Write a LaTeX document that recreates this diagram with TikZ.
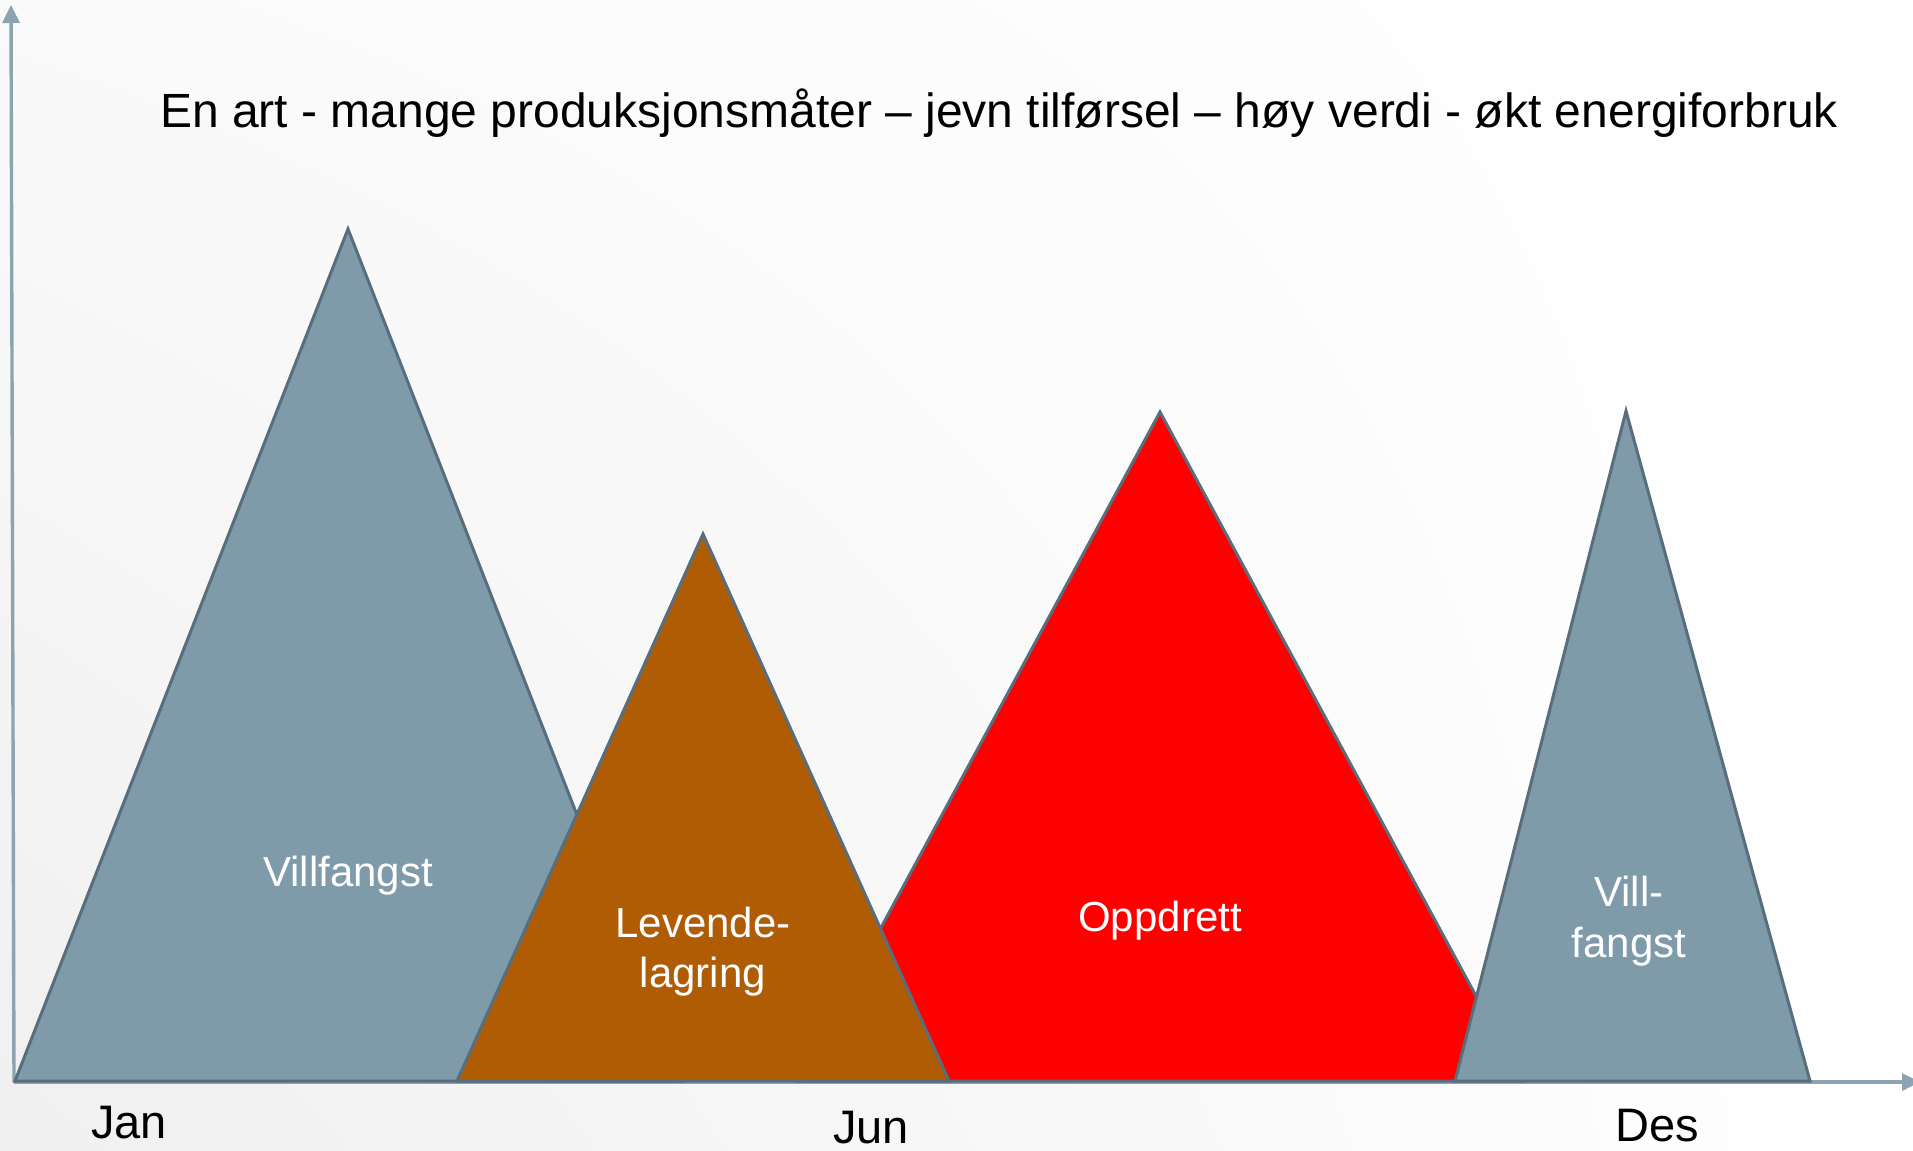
\documentclass[tikz,border=0pt]{standalone}
\usepackage{fontspec}
\setmainfont{Liberation Sans}
\usetikzlibrary{arrows.meta,shadings}
\definecolor{fishgray}{RGB}{127,155,170}
\definecolor{edgec}{RGB}{88,110,125}
\definecolor{browny}{RGB}{176,92,5}
\definecolor{axisc}{RGB}{140,163,178}
\begin{document}
\begin{tikzpicture}[x=0.5pt,y=-0.5pt,
  tri/.style={draw=edgec,line width=1.5pt,line join=miter},
  lbl/.style={text=white,font=\fontsize{21}{25}\selectfont,anchor=base,inner sep=0pt},
  axlbl/.style={text=black,font=\fontsize{23.5}{28}\selectfont,anchor=base,inner sep=0pt},
  titlelbl/.style={text=black,font=\fontsize{24}{29}\selectfont,anchor=base,inner sep=0pt},
  axisline/.style={draw=axisc,line width=1.7pt,-{Triangle[length=9pt,width=8.5pt]}}]
\useasboundingbox (0,0) rectangle (1913,1151);
\shade[lower left=black!6, upper left=black!2, lower right=white, upper right=white] (0,0) rectangle (1913,1151);
% axes
\coordinate (O) at (14,1082);
\coordinate (ytop) at (11,5);
\coordinate (xend) at (1920,1082);
\draw[axisline] (O) -- (ytop);
\draw[axisline] (O) -- (xend);
% triangles
\filldraw[tri,fill=fishgray] (15,1081) -- (348,229) -- (681,1081) -- cycle;
\filldraw[tri,fill=red] (798,1081) -- (1160,412) -- (1522,1081) -- cycle;
\filldraw[tri,fill=browny] (457,1081) -- (703,534) -- (949,1081) -- cycle;
\filldraw[tri,fill=fishgray] (1455,1081) -- (1626,411) -- (1810,1081) -- cycle;
% labels
\node[lbl] (vf1) at (348,886) {Villfangst};
\node[lbl] (lev1) at (703,937) {Levende-};
\node[lbl] (lev2) at (703,987) {lagring};
\node[lbl] (opp) at (1160,931) {Oppdrett};
\node[lbl] (vf2a) at (1629,906) {Vill-};
\node[lbl] (vf2b) at (1629,957) {fangst};
\node[titlelbl] (title) at (999,127) {En art - mange produksjonsmåter – jevn tilførsel – høy verdi - økt energiforbruk};
\node[axlbl] (jan) at (129,1138) {Jan};
\node[axlbl] (jun) at (871,1143) {Jun};
\node[axlbl] (des) at (1657,1141) {Des};
\end{tikzpicture}
\end{document}
